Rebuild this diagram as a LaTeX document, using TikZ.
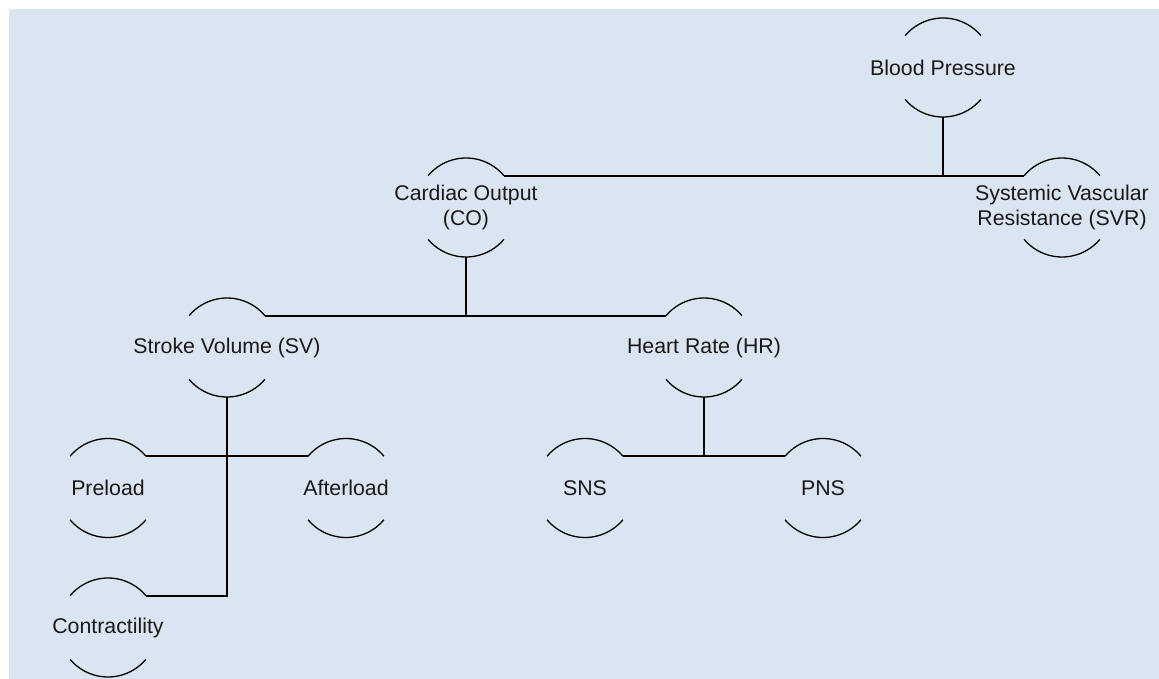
\documentclass[tikz,border=0pt]{standalone}
\usepackage{fontspec}
\setmainfont{Liberation Sans}
\definecolor{bgblue}{RGB}{219,229,241}
\begin{document}
\begin{tikzpicture}[x=1pt,y=1pt,
  bub/.style={inner sep=0pt, outer sep=0pt, align=center,
    font=\fontsize{21.3}{25}\selectfont, text=black!90},
  arcline/.style={line width=1.3pt},
  conn/.style={line width=1.8pt}]
\useasboundingbox (0,0) rectangle (1159,-679);
\fill[white] (0,0) rectangle (1159,-679);
\fill[bgblue] (9,-9) rectangle (1159,-679);

\node[bub] (bp) at (943,-67.5) {Blood Pressure};
\node[bub] (co) at (466,-207.5) {Cardiac Output\\(CO)};
\node[bub] (svr) at (1062,-207.5) {Systemic Vascular\\Resistance (SVR)};
\node[bub] (sv) at (227,-347.5) {Stroke Volume (SV)};
\node[bub] (hr) at (704,-347.5) {Heart Rate (HR)};
\node[bub] (pre) at (108,-488) {Preload};
\node[bub] (aft) at (346,-488) {Afterload};
\node[bub] (sns) at (585,-488) {SNS};
\node[bub] (pns) at (823,-488) {PNS};
\node[bub] (con) at (108,-627.5) {Contractility};

\foreach \n in {bp,co,svr,sv,hr,pre,aft,sns,pns,con}{
  \coordinate (\n-tr) at ([shift={(40:49.5pt)}]\n.center);
  \coordinate (\n-tl) at ([shift={(140:49.5pt)}]\n.center);
  \coordinate (\n-bl) at ([shift={(220:49.5pt)}]\n.center);
  \coordinate (\n-b) at ([shift={(270:49.5pt)}]\n.center);
  \draw[arcline] (\n-tr) arc[start angle=40,end angle=140,radius=49.5pt];
  \draw[arcline] (\n-bl) arc[start angle=220,end angle=320,radius=49.5pt];
}

\draw[conn] (co-tr) -- (svr-tl);
\draw[conn] (bp-b) -- (bp-b |- co-tr);
\draw[conn] (sv-tr) -- (hr-tl);
\draw[conn] (co-b) -- (co-b |- sv-tr);
\draw[conn] (pre-tr) -- (aft-tl);
\draw[conn] (sv-b) -- (sv-b |- con-tr) -- (con-tr);
\draw[conn] (sns-tr) -- (pns-tl);
\draw[conn] (hr-b) -- (hr-b |- sns-tr);
\end{tikzpicture}
\end{document}
